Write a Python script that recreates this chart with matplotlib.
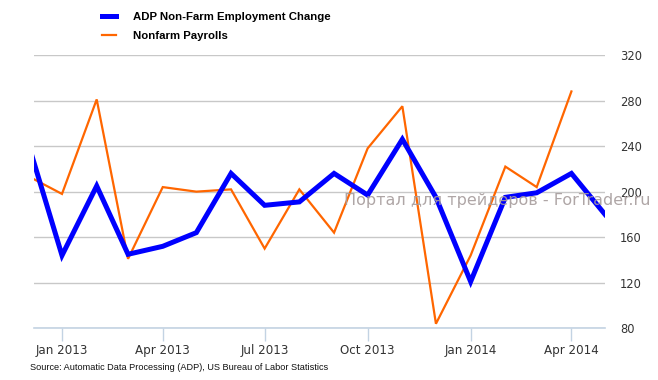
import numpy as np
import pandas as pd
import matplotlib
matplotlib.use("Agg")
import matplotlib.pyplot as plt
import matplotlib.dates as mdates
from matplotlib.lines import Line2D

# ── Data (thousands of jobs, monthly) ──────────────────────────────────────
adp_months = pd.date_range("2012-12-01", "2014-05-01", freq="MS")
adp_change = [245, 144, 205, 145, 152, 164, 216, 188, 191, 216, 197, 246,
              195, 121, 195, 199, 216, 180]

nfp_months = pd.date_range("2012-12-01", "2014-04-01", freq="MS")
nfp_change = [214, 198, 281, 141, 204, 200, 202, 150, 202, 164, 238, 275,
              84, 144, 222, 204, 288]

y_ticks = [80, 120, 160, 200, 240, 280, 320]
x_ticks = pd.to_datetime(["2013-01-01", "2013-04-01", "2013-07-01",
                          "2013-10-01", "2014-01-01", "2014-04-01"])

C_ADP = "#0000ff"
C_NFP = "#ff6600"
C_GRID = "#c8c8c8"
C_AXIS = "#c3d3e3"
C_TEXT = "#333333"

W, H = 658, 380
fig = plt.figure(figsize=(W / 100, H / 100), dpi=100)
ax = fig.add_axes([34 / W, 1 - 328.3 / H, (605 - 34) / W, (328.3 - 55) / H])

ax.plot(nfp_months, nfp_change, color=C_NFP, lw=1.6, zorder=3,
        solid_joinstyle="miter")
ax.plot(adp_months, adp_change, color=C_ADP, lw=3.6, zorder=4,
        solid_joinstyle="miter")

ax.set_xlim(pd.Timestamp("2012-12-07"), pd.Timestamp("2014-05-01"))
ax.set_ylim(80, 320)

# y axis on the right, no tick marks
ax.yaxis.tick_right()
ax.set_yticks(y_ticks)
ax.tick_params(axis="y", length=0, pad=11, labelsize=8.3, labelcolor=C_TEXT)
ax.grid(axis="y", color=C_GRID, lw=1.0)
ax.set_axisbelow(True)

ax.set_xticks(x_ticks)
ax.xaxis.set_major_formatter(mdates.DateFormatter("%b %Y"))
ax.tick_params(axis="x", length=9, width=1, color=C_AXIS, pad=2,
               labelsize=8.6, labelcolor=C_TEXT)

for side in ["top", "left", "right"]:
    ax.spines[side].set_visible(False)
ax.spines["bottom"].set_color(C_AXIS)
ax.spines["bottom"].set_linewidth(1.2)

# watermark
fig.text(497 / W, 1 - 201 / H, "Портал для трейдеров - ForTrader.ru",
         ha="center", va="center", fontsize=11.5, color="#a69c9c",
         alpha=0.9, zorder=10)

# legend
handles = [Line2D([], [], color=C_ADP, lw=3.6),
           Line2D([], [], color=C_NFP, lw=1.6)]
fig.legend(handles, ["ADP Non-Farm Employment Change", "Nonfarm Payrolls"],
           loc="upper left", bbox_to_anchor=(92 / W, 1 - 2 / H),
           frameon=False, handlelength=1.2, handletextpad=1.5,
           labelspacing=0.75,
           prop={"family": "Liberation Sans", "weight": "bold", "size": 8.2})

fig.text(30 / W, 1 - 367 / H,
         "Source: Automatic Data Processing (ADP), US Bureau of Labor Statistics",
         ha="left", va="center", fontsize=6.6, family="Liberation Sans",
         color="#111111")

fig.savefig("out.png", dpi=100)
